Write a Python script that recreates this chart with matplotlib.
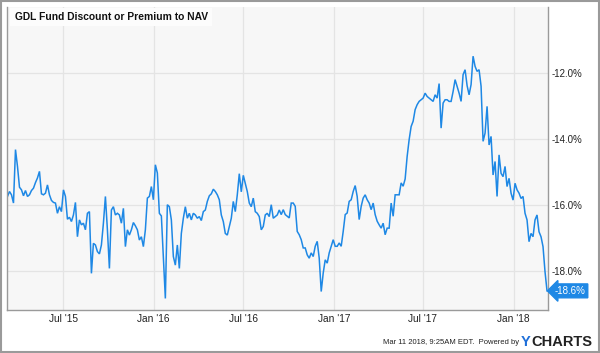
import numpy as np
import pandas as pd
import matplotlib
matplotlib.use("Agg")
import matplotlib.pyplot as plt
from matplotlib.patches import Rectangle

plt.rcParams["font.family"] = ["Liberation Sans", "DejaVu Sans"]

# GDL discount / premium to NAV (%), roughly every 4 days
discount = [
    -15.74, -15.59, -15.69, -15.94, -14.32, -14.83, -15.46, -15.54, -15.72, -15.56,
    -15.74, -15.69, -15.56, -15.49, -15.32, -15.18, -14.98, -15.66, -15.69, -15.64,
    -15.39, -15.69, -15.86, -15.92, -15.94, -16.25, -16.05, -16.20, -15.54, -15.74,
    -16.43, -16.37, -16.50, -16.30, -15.92, -16.96, -16.45, -16.60, -16.55, -16.75,
    -16.25, -16.20, -18.07, -17.16, -17.21, -17.41, -17.48,
    -17.21, -16.55, -15.74, -16.75, -17.92, -16.15, -16.05, -16.30, -16.25, -16.30,
    -16.55, -16.10, -17.26, -16.75, -16.91, -16.75, -16.53, -16.63, -16.75, -17.06,
    -16.96, -17.26, -16.75, -15.79, -15.74, -15.44, -15.84, -14.78, -15.03, -16.25,
    -16.33, -17.56, -18.83, -15.99, -16.05, -16.45, -17.56, -17.82, -17.21, -17.92,
    -16.86, -16.40, -16.05, -16.40, -16.25,
    -16.45, -16.25, -16.30, -16.40, -16.35, -16.47, -16.20, -16.15, -15.89, -15.72,
    -15.66, -15.52, -15.59, -15.69, -15.84, -16.30, -16.50, -16.86, -16.91, -16.65,
    -16.40, -15.89, -16.20, -15.69, -15.05, -15.60, -15.10, -15.34, -15.59, -15.94,
    -16.05, -15.79, -16.20, -16.25, -16.35, -16.75, -16.65, -16.30, -16.25, -16.35,
    -15.99, -16.40, -16.35, -16.30, -16.15,
    -16.29, -16.14, -16.29, -16.34, -16.39, -15.94, -15.94, -16.04, -16.80, -16.90,
    -17.05, -17.30, -17.30, -17.51, -17.61, -17.45, -17.56, -17.25, -17.10, -17.61,
    -18.62, -18.06, -17.66, -17.76, -17.45, -17.25, -17.05, -17.25, -17.25, -17.15,
    -17.25, -16.80, -16.29, -16.24, -15.89, -15.84, -15.59, -15.41, -15.74, -16.44,
    -16.04, -15.79, -15.69, -15.84, -15.94,
    -16.14, -15.94, -16.29, -16.49, -16.60, -16.70, -16.55, -16.90, -16.70, -16.70,
    -15.94, -16.34, -15.69, -15.69, -15.69, -15.33, -15.43, -15.21, -14.53, -14.02,
    -13.62, -13.46, -13.11, -12.96, -12.86, -12.81, -12.76, -12.61, -12.71, -12.76,
    -12.81, -12.86, -12.66, -12.76, -12.32, -13.67, -12.91, -12.81, -12.81, -12.86,
    -12.86, -12.56, -12.20, -12.40, -12.61,
    -12.86, -12.05, -11.90, -12.38, -12.66, -12.35, -11.49, -11.80, -11.95, -11.90,
    -12.40, -14.07, -13.82, -13.01, -14.18, -13.92, -15.09, -14.68, -15.74, -14.48,
    -15.04, -15.14, -14.83, -15.44, -15.19, -15.64, -15.85, -15.34, -15.54, -15.64,
    -15.80, -15.74, -16.25, -16.45, -17.11, -16.86, -16.96, -16.45, -16.30, -16.81,
    -16.96, -17.26, -18.02, -18.60,
]
dates = pd.date_range("2015-03-10", "2018-03-10", periods=len(discount))

x_ticks = ["2015-07-01", "2016-01-01", "2016-07-01", "2017-01-01", "2017-07-01", "2018-01-01"]
x_tick_labels = ["Jul '15", "Jan '16", "Jul '16", "Jan '17", "Jul '17", "Jan '18"]
y_ticks = [-18, -16, -14, -12]
last_label = "-18.6%"

blue = "#1e88e5"
gray = "#9a9a9a"

fig = plt.figure(figsize=(6.0, 3.53), dpi=100)
ax = fig.add_axes([7 / 600, 1 - 310 / 353, 541 / 600, 303 / 353])
ax.set_facecolor("#f7f7f7")

ax.plot(dates, discount, color=blue, lw=1.1, solid_joinstyle="miter")

ax.set_xlim(pd.Timestamp("2015-03-09"), pd.Timestamp("2018-03-12"))
ax.set_ylim(-19.18, -10.0)

ax.set_xticks(pd.to_datetime(x_ticks))
ax.set_xticklabels(x_tick_labels, fontsize=7.3, color="#222222")
ax.set_yticks(y_ticks)
ax.set_yticklabels([f"{v:.1f}%" for v in y_ticks], fontsize=7.0, color="#222222")
ax.yaxis.tick_right()
ax.tick_params(axis="x", length=0, pad=3)
ax.tick_params(axis="y", length=0, pad=2.5)
for lab in ax.get_yticklabels():
    lab.set_horizontalalignment("left")

ax.grid(True, color="#e4e4e4", lw=0.9)
ax.set_axisbelow(True)

for side in ["left", "right", "bottom"]:
    ax.spines[side].set_color(gray)
    ax.spines[side].set_linewidth(1.0)
ax.spines["top"].set_visible(False)

# title box in upper left of plot area
ax.text(0.014, 0.966, "GDL Fund Discount or Premium to NAV", transform=ax.transAxes,
        fontsize=7.4, fontweight="bold", color="#111111", va="center", ha="left",
        bbox=dict(boxstyle="square,pad=0.4", fc="#fcfcfc", ec="none"))

# last value flag
ax.annotate(last_label, xy=(1.0, discount[-1]), xycoords=("axes fraction", "data"),
            xytext=(5, 0), textcoords="offset points", fontsize=7.0, color="white",
            va="center", ha="left", annotation_clip=False,
            bbox=dict(boxstyle="larrow,pad=0.2", fc=blue, ec=blue))

# footer
fig.text(519 / 600, 1 - 343 / 353, "Mar 11 2018, 9:25AM EDT.  Powered by", fontsize=5.5,
         color="#222222", ha="right", va="center")
logo = fig.text(592 / 600, 1 - 342 / 353, "CHARTS", fontsize=10.5, fontweight="bold",
                color="#222222", ha="right", va="center")
fig.canvas.draw()
logo_left = logo.get_window_extent().x0 / fig.bbox.width
fig.text(logo_left - 0.001, 1 - 342 / 353, "Y", fontsize=10.5, fontweight="bold",
         color="#1e6fd9", ha="right", va="center")

# outer border
fig.patches.append(Rectangle((0.001, 0.002), 0.997, 0.995, transform=fig.transFigure,
                             fill=False, ec=gray, lw=1.5))

fig.savefig("out.png", dpi=100)
plt.close(fig)
